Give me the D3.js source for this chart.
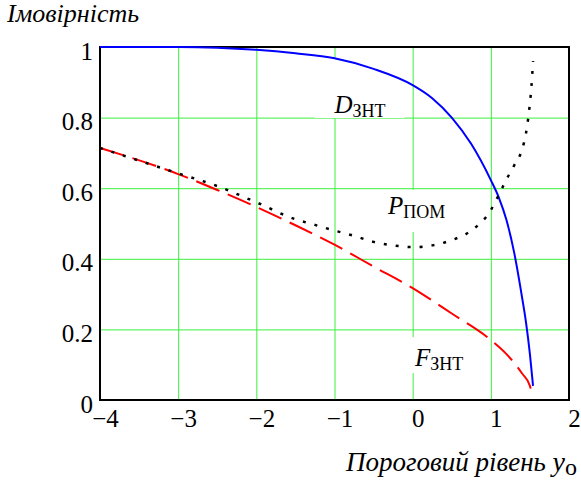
<!DOCTYPE html>
<html>
<head>
<meta charset="utf-8">
<script src="https://cdn.jsdelivr.net/npm/d3@7"></script>
<style>
    body { margin: 0; background: #fff; }
</style>
</head>
<body>
<div id="chart"></div>
<script>
// дані кривих
const xF = [-4, -3, -2.5, -2, -1.5, -1, -0.5, 0, 0.5, 1, 1.2, 1.4, 1.5, 1.52]
const valF = [0.714, 0.64, 0.595, 0.547, 0.495, 0.44, 0.378, 0.317, 0.245, 0.17, 0.13, 0.075, 0.04, 0.02]

const xD = [-4, -3, -2.5, -2, -1.5, -1, -0.5, 0, 0.25, 0.5, 0.75, 1, 1.1, 1.2, 1.3, 1.4, 1.45, 1.5, 1.54]
const valD = [1, 1, 0.998, 0.992, 0.982, 0.968, 0.938, 0.892, 0.855, 0.8, 0.725, 0.623, 0.575, 0.51, 0.416, 0.29, 0.22, 0.13, 0.04]

const xP = [-4, -3, -2.5, -2, -1.5, -1.25, -1, -0.75, -0.5, -0.25, 0, 0.25, 0.5, 0.75, 1, 1.1, 1.2, 1.3, 1.4, 1.45, 1.49, 1.52, 1.54]
const valP = [0.714, 0.642, 0.606, 0.56, 0.512, 0.496, 0.48, 0.465, 0.448, 0.438, 0.433, 0.438, 0.453, 0.48, 0.538, 0.58, 0.625, 0.665, 0.71, 0.756, 0.82, 0.89, 0.96]

const xTicks = [-4, -3, -2, -1, 0, 1, 2]
const yTicks = [0, 0.2, 0.4, 0.6, 0.8, 1]
const yTickLabels = ["0", "0.2", "0.4", "0.6", "0.8", "1"]

const FONT = '"Liberation Serif", "Times New Roman", serif'

const width = 581
const height = 480
const margin = {
    top: 47,
    bottom: 80,
    right: 12,
    left: 100
}
const innerW = width - margin.left - margin.right
const innerH = height - margin.top - margin.bottom

const svg = d3.select("div#chart").append("svg").attr("width", width).attr("height", height)
const gridGroup = svg.append("g").attr("class", "gridGroup").attr("transform", `translate(${margin.left}, ${margin.top})`)
const boxGroup = svg.append("g").attr("class", "boxGroup").attr("transform", `translate(${margin.left}, ${margin.top})`)
const frameGroup = svg.append("g").attr("class", "frameGroup").attr("transform", `translate(${margin.left}, ${margin.top})`)
const elementGroup = svg.append("g").attr("class", "elementGroup").attr("transform", `translate(${margin.left}, ${margin.top})`)
const labelGroup = svg.append("g").attr("class", "labelGroup").attr("transform", `translate(${margin.left}, ${margin.top})`)
const xAxisGroup = svg.append("g").attr("class", "xAxisGroup").attr("transform", `translate(${margin.left}, ${margin.top + innerH})`)
const yAxisGroup = svg.append("g").attr("class", "yAxisGroup").attr("transform", `translate(${margin.left}, ${margin.top})`)

const x = d3.scaleLinear().domain([-4, 2]).range([0, innerW])
const y = d3.scaleLinear().domain([0, 1]).range([innerH, 0])

// сітка
const xGrid = d3.axisBottom(x).tickValues([-3, -2, -1, 0, 1]).tickSize(-innerH).tickFormat("")
const yGrid = d3.axisLeft(y).tickValues([0.2, 0.4, 0.6, 0.8]).tickSize(-innerW).tickFormat("")
gridGroup.append("g").attr("transform", `translate(0, ${innerH})`).call(xGrid)
gridGroup.append("g").call(yGrid)
gridGroup.selectAll(".domain").remove()
gridGroup.selectAll(".tick line").attr("stroke", "#3cf03c").attr("stroke-width", 1)

// осі (тільки підписи)
const xAxis = d3.axisBottom(x).tickValues(xTicks).tickSize(0).tickPadding(9).tickFormat(d3.format("d"))
const yAxis = d3.axisLeft(y).tickValues(yTicks).tickSize(0).tickPadding(7).tickFormat((d, i) => yTickLabels[i])
xAxisGroup.call(xAxis)
yAxisGroup.call(yAxis)
xAxisGroup.select(".domain").remove()
yAxisGroup.select(".domain").remove()
xAxisGroup.selectAll("text").style("font-family", FONT).attr("font-size", 25).attr("fill", "#000").attr("dx", 5)
yAxisGroup.selectAll("text").style("font-family", FONT).attr("font-size", 25).attr("fill", "#000").attr("dy", "0.48em")

// рамка
frameGroup.append("rect")
    .attr("x", 0).attr("y", 0).attr("width", innerW).attr("height", innerH)
    .attr("fill", "none").attr("stroke", "#000").attr("stroke-width", 2)

// підписи кривих з білим фоном
const labels = [
    { main: "D", sub: "ЗНТ", v: -1.0, p: 0.813, box: [-20, -55, 70, 5] },
    { main: "P", sub: "ПОМ", v: -0.316, p: 0.527, box: [-16, -24, 70, 18] },
    { main: "F", sub: "ЗНТ", v: 0.03, p: 0.096, box: [-15, -29, 53, 7] }
]
boxGroup.selectAll("rect").data(labels).enter()
    .append("rect")
    .attr("x", d => x(d.v) + d.box[0])
    .attr("y", d => y(d.p) + d.box[1])
    .attr("width", d => d.box[2] - d.box[0])
    .attr("height", d => d.box[3] - d.box[1])
    .attr("fill", "#fff")

const lbl = labelGroup.selectAll("text").data(labels).enter()
    .append("text")
    .style("font-family", FONT)
    .attr("x", d => x(d.v))
    .attr("y", d => y(d.p))
lbl.append("tspan").style("font-style", "italic").attr("font-size", 25).text(d => d.main)
lbl.append("tspan").attr("font-size", 18).attr("dy", 4).text(d => d.sub)

// криві
const line = d3.line().curve(d3.curveMonotoneX).x(d => x(d[0])).y(d => y(d[1]))

elementGroup.append("path")
    .datum(xF.map((v, i) => [v, valF[i]]))
    .attr("d", line)
    .attr("fill", "none").attr("stroke", "#ff0000").attr("stroke-width", 2)
    .attr("stroke-dasharray", "25,9")

elementGroup.append("path")
    .datum(xD.map((v, i) => [v, valD[i]]))
    .attr("d", line)
    .attr("fill", "none").attr("stroke", "#0000ff").attr("stroke-width", 2)

elementGroup.append("path")
    .datum(xP.map((v, i) => [v, valP[i]]))
    .attr("d", line)
    .attr("fill", "none").attr("stroke", "#000").attr("stroke-width", 2.5)
    .attr("stroke-dasharray", "3,9")

// назви осей
svg.append("text")
    .style("font-family", FONT)
    .attr("x", 7).attr("y", 22)
    .attr("font-size", 26).style("font-style", "italic")
    .text("Імовірність")

const xTitle = svg.append("text")
    .style("font-family", FONT)
    .attr("x", 577).attr("y", 471)
    .attr("text-anchor", "end")
    .attr("font-size", 27)
xTitle.append("tspan").style("font-style", "italic").text("Пороговий рівень ")
xTitle.append("tspan").style("font-style", "italic").attr("font-size", 28).text("y")
xTitle.append("tspan").attr("font-size", 24).attr("dy", 4).text("о")
</script>
</body>
</html>
